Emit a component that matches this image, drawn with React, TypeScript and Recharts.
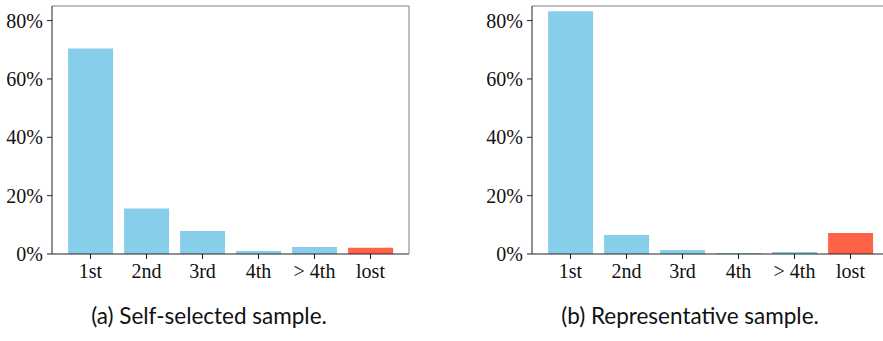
import React from 'react';
import { BarChart, Bar, XAxis, YAxis, Cell } from 'recharts';

const places = ['1st', '2nd', '3rd', '4th', '> 4th', 'lost'];
const selfSelected = [70.4, 15.6, 7.9, 1.0, 2.4, 2.1];
const representative = [83.2, 6.5, 1.4, 0.3, 0.7, 7.2];
const yTicks = [0, 20, 40, 60, 80];

const BLUE = '#87ceeb';
const RED = '#ff6347';
const tickFont = { fontFamily: '"Liberation Serif", serif', fontSize: 20, fill: '#111' };

interface PanelProps {
  values: number[];
  caption: string;
  left: number;
  captionCenter: number;
}

const Panel: React.FC<PanelProps> = ({ values, caption, left, captionCenter }) => {
  const data = places.map((p, i) => ({ place: p, share: values[i] }));

  return (
    <>
      <div style={{ position: 'absolute', left, top: 0 }}>
        <BarChart
          width={420}
          height={290}
          data={data}
          margin={{ top: 5, right: 10, left: 0, bottom: 0 }}
          barCategoryGap="10%"
        >
          <XAxis
            dataKey="place"
            height={36}
            padding={{ left: 10.5, right: 10.5 }}
            tick={tickFont}
            tickSize={5}
            tickMargin={5}
            stroke="#222"
            tickLine={{ stroke: '#222' }}
          />
          {/* top and right spines, lighter like the original */}
          <XAxis
            xAxisId="top"
            dataKey="place"
            orientation="top"
            height={1}
            tick={false}
            tickLine={false}
            stroke="#808080"
          />
          <YAxis
            width={52}
            domain={[0, 85]}
            ticks={yTicks}
            tickFormatter={(v: number) => `${v}%`}
            tick={tickFont}
            tickSize={5}
            tickMargin={4}
            stroke="#222"
            interval={0}
          />
          <YAxis
            yAxisId="right"
            orientation="right"
            width={1}
            domain={[0, 85]}
            tick={false}
            tickLine={false}
            stroke="#808080"
          />
          <Bar dataKey="share" isAnimationActive={false}>
            {data.map((d) => (
              <Cell key={d.place} fill={d.place === 'lost' ? RED : BLUE} />
            ))}
          </Bar>
        </BarChart>
      </div>
      <div
        style={{
          position: 'absolute',
          left: captionCenter - 200,
          width: 400,
          top: 302,
          textAlign: 'center',
          fontFamily: 'Lato, sans-serif',
          fontSize: 22.5,
          color: '#111',
          whiteSpace: 'nowrap',
        }}
      >
        {caption}
      </div>
    </>
  );
};

export default function App() {
  return (
    <div
      style={{
        position: 'absolute',
        left: 0,
        top: 0,
        width: 883,
        height: 341,
        overflow: 'hidden',
        background: '#fff',
      }}
    >
      <Panel values={selfSelected} caption="(a) Self-selected sample." left={0} captionCenter={209} />
      <Panel values={representative} caption="(b) Representative sample." left={480} captionCenter={690} />
    </div>
  );
}
